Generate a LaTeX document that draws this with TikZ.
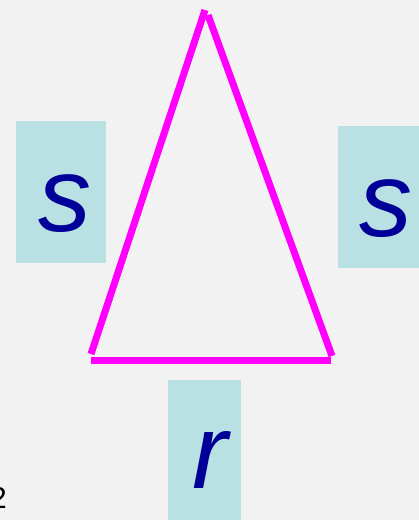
\documentclass[tikz,border=0pt]{standalone}
\usepackage{fontspec}
\setmainfont{Liberation Sans}
\definecolor{bg}{HTML}{F2F2F2}
\definecolor{boxc}{HTML}{B9E0E3}
\definecolor{txt}{HTML}{000099}
\definecolor{mag}{HTML}{FF00FF}
\begin{document}
\begin{tikzpicture}[x=1pt,y=-1pt,
  side/.style={draw=mag,line width=7pt,line cap=butt},
  lbox/.style={fill=boxc,draw=none,inner sep=0pt,rectangle},
  ltext/.style={text=txt,inner sep=0pt,anchor=base,font=\fontsize{106}{106}\selectfont\itshape}]
\fill[bg] (0,0) rectangle (419,520);
\useasboundingbox (0,0) rectangle (419,520);
% boxes
\node[lbox,minimum width=90pt,minimum height=142pt] (bl) at (61,192) {};
\node[lbox,minimum width=81pt,minimum height=142pt] (br) at (378.5,197) {};
\node[lbox,minimum width=73pt,minimum height=140pt] (bb) at (204.5,450) {};
% labels
\node[ltext] (sl) at (65,231) {s};
\node[ltext] (sr) at (386,236) {s};
\node[ltext] (rb) at (210,488) {r};
% triangle
\coordinate (L1) at (91,354);
\coordinate (L2) at (205,10);
\coordinate (R1) at (208,15);
\coordinate (R2) at (332,356);
\coordinate (B1) at (91,360.5);
\coordinate (B2) at (331,360.5);
\draw[side] (L1) -- (L2);
\draw[side] (R1) -- (R2);
\draw[side] (B1) -- (B2);
% partial digit, cut by the left edge as in the reference
\node[anchor=base east,inner sep=0pt,font=\fontsize{30}{30}\selectfont] (two) at (7,508) {2};
\end{tikzpicture}
\end{document}
